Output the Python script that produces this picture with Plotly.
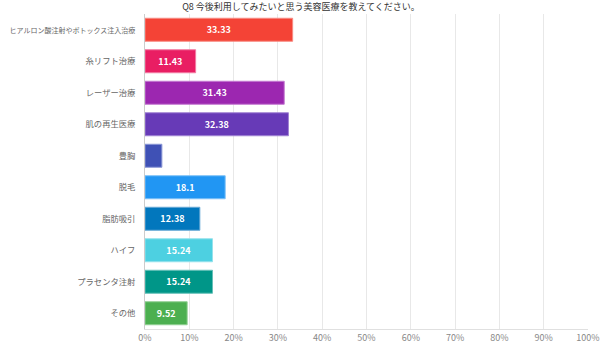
import plotly.graph_objects as go

categories = ["ヒアルロン酸注射やボトックス注入治療", "糸リフト治療", "レーザー治療", "肌の再生医療",
              "豊胸", "脱毛", "脂肪吸引", "ハイフ", "プラセンタ注射", "その他"]
values = [33.33, 11.43, 31.43, 32.38, 3.81, 18.1, 12.38, 15.24, 15.24, 9.52]
colors = ["#F44336", "#E91E63", "#9C27B0", "#673AB7", "#3F51B5",
          "#2196F3", "#0277BD", "#4DD0E1", "#009688", "#4CAF50"]
border_colors = ["#F88A82", "#F27BA2", "#C47AD1", "#A183D3", "#8C98D6",
                 "#7CC0F7", "#68A9D6", "#95E2EC", "#66C0B8", "#90CF92"]
tick_vals = [0, 10, 20, 30, 40, 50, 60, 70, 80, 90, 100]
tick_text = [f"{v}%" for v in tick_vals]
title = "Q8 今後利用してみたいと思う美容医療を教えてください。"

labels = [("" if v < 5 else f"{v:g}") for v in values]
cat_text = [(f'<span style="font-size:7px">{c}</span>' if len(c) > 12 else c) for c in categories]

fig = go.Figure(go.Bar(
    y=categories, x=values, orientation="h",
    marker=dict(color=colors, line=dict(color=border_colors, width=1)),
    text=labels, textposition="inside", insidetextanchor="middle",
    textfont=dict(color="white", size=9, family="Noto Sans CJK JP"),
    texttemplate="<b>%{text}</b>", cliponaxis=False,
))

fig.update_layout(
    width=602, height=351,
    margin=dict(l=145, r=14, t=14, b=22),
    plot_bgcolor="white", paper_bgcolor="white",
    bargap=0.27,
    showlegend=False,
    title=dict(text=title, x=0.5, xanchor="center", y=1 - 7 / 351, yanchor="middle",
               font=dict(size=9, color="#333333", family="Noto Sans CJK JP")),
    font=dict(family="Noto Sans CJK JP", size=9, color="#666666"),
)
fig.update_xaxes(range=[0, 100], tickvals=tick_vals, ticktext=tick_text,
                 showgrid=True, gridcolor="#e8e8e8", gridwidth=1,
                 zeroline=False, showline=True, linecolor="#e0e0e0",
                 tickfont=dict(size=9, color="#888888"), ticks="", automargin=False)
fig.update_yaxes(autorange="reversed", showline=True, linecolor="#cccccc", linewidth=1,
                 ticks="", ticklabelstandoff=7, automargin=False,
                 tickvals=categories, ticktext=cat_text,
                 tickfont=dict(size=8.3, color="#666666"))

fig.write_html("out.html")
